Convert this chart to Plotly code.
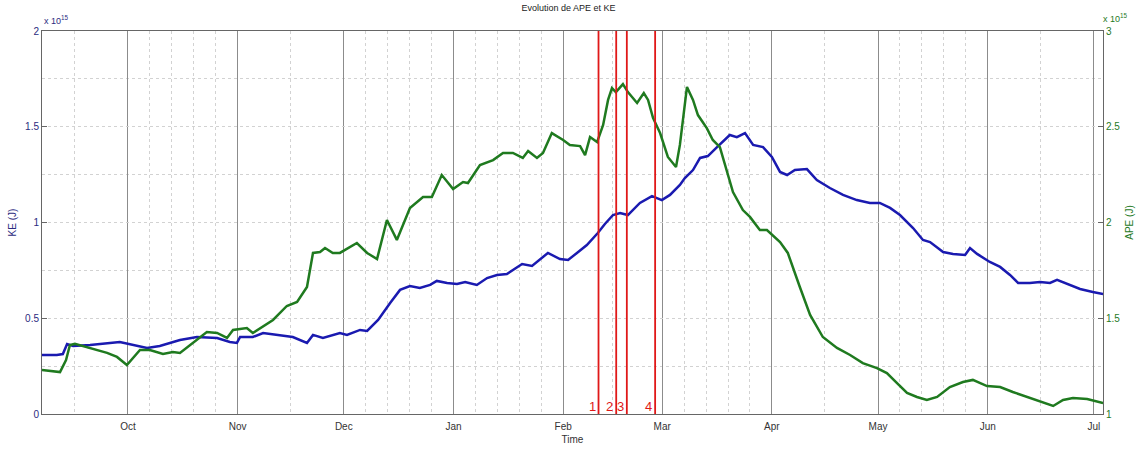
import pandas as pd
import plotly.graph_objects as go

# ---- data (time in days since 2010-10-01, energies in units of 1e15 J) ----
ref_date = "2010-10-01"

ke_days = [-24.3, -20.1, -18.4, -17.2, -15.5, -10.7, -2.3, 2.5, 5.4, 9.0, 14.7, 19.5, 25.2, 28.8, 30.8,
           31.7, 35.3, 38.2, 43.0, 46.6, 50.6, 52.3, 55.1, 59.9, 61.9, 65.6, 67.6, 70.7, 74.1, 76.9,
           79.7, 82.5, 85.4, 87.3, 90.2, 93.0, 95.3, 98.6, 101.5, 104.3, 107.1, 111.4, 114.2, 116.5,
           118.7, 122.1, 124.4, 126.9, 129.7, 132.8, 134.8, 137.1, 139.1, 141.3, 144.7, 148.1, 150.9,
           153.2, 156.0, 157.4, 159.7, 161.7, 163.9, 166.5, 170.1, 172.1, 174.4, 176.7, 179.5, 182.0,
           184.3, 186.3, 188.5, 191.9, 194.7, 198.4, 202.1, 206.0, 209.7, 212.5, 215.4, 218.2, 221.9,
           224.7, 226.7, 230.4, 233.2, 236.6, 238.0, 240.0, 243.6, 246.5, 249.3, 251.6, 254.9, 257.8,
           260.6, 262.6, 265.4, 269.1, 272.7, 275.6]
ke_vals = [0.308, 0.308, 0.313, 0.365, 0.355, 0.360, 0.376, 0.355, 0.345, 0.355, 0.386, 0.402, 0.397,
           0.376, 0.371, 0.402, 0.402, 0.423, 0.413, 0.402, 0.371, 0.413, 0.397, 0.423, 0.413, 0.439,
           0.434, 0.491, 0.580, 0.648, 0.668, 0.658, 0.674, 0.695, 0.684, 0.679, 0.689, 0.674, 0.710,
           0.726, 0.731, 0.783, 0.773, 0.809, 0.841, 0.809, 0.804, 0.841, 0.882, 0.945, 0.992, 1.039,
           1.050, 1.039, 1.102, 1.138, 1.117, 1.144, 1.196, 1.232, 1.274, 1.337, 1.347, 1.394, 1.457,
           1.446, 1.467, 1.405, 1.394, 1.342, 1.264, 1.248, 1.274, 1.279, 1.222, 1.180, 1.144, 1.117,
           1.102, 1.102, 1.076, 1.039, 0.971, 0.909, 0.898, 0.846, 0.836, 0.830, 0.867, 0.836, 0.794,
           0.768, 0.726, 0.684, 0.684, 0.689, 0.684, 0.700, 0.679, 0.653, 0.637, 0.627]

ape_days = [-24.3, -19.2, -17.5, -16.4, -15.0, -10.7, -5.9, -3.1, -0.3, 3.4, 6.2, 9.9, 12.7, 14.7, 18.4,
            22.3, 25.2, 28.0, 29.7, 33.6, 35.3, 41.0, 44.9, 47.8, 50.6, 52.3, 54.3, 55.7, 57.9, 59.9,
            64.7, 67.6, 70.4, 73.2, 76.0, 79.7, 83.4, 85.9, 88.7, 91.9, 94.7, 96.1, 99.5, 103.2, 106.0,
            108.8, 111.6, 113.1, 115.6, 117.3, 119.8, 123.0, 124.9, 127.8, 129.2, 130.6, 132.6, 134.3,
            135.7, 136.8, 137.9, 139.9, 141.3, 143.9, 145.8, 147.0, 148.4, 150.4, 152.6, 154.9, 156.0,
            158.0, 159.7, 161.1, 163.6, 165.3, 167.3, 169.3, 171.0, 173.8, 175.8, 178.6, 180.6, 184.3,
            186.5, 189.9, 192.8, 196.4, 200.4, 204.1, 207.7, 211.7, 214.5, 217.3, 220.2, 223.0, 225.8,
            228.7, 232.3, 236.0, 238.8, 242.8, 246.5, 250.1, 254.1, 257.8, 261.5, 264.3, 267.1, 271.1,
            275.6]
ape_vals = [1.230, 1.219, 1.282, 1.360, 1.366, 1.345, 1.319, 1.298, 1.256, 1.334, 1.334, 1.313, 1.324,
            1.319, 1.371, 1.428, 1.423, 1.397, 1.439, 1.449, 1.423, 1.491, 1.564, 1.585, 1.663, 1.841,
            1.846, 1.867, 1.841, 1.841, 1.893, 1.841, 1.809, 2.013, 1.909, 2.076, 2.133, 2.133, 2.248,
            2.175, 2.211, 2.206, 2.300, 2.326, 2.363, 2.363, 2.337, 2.373, 2.337, 2.363, 2.467, 2.431,
            2.405, 2.399, 2.352, 2.446, 2.420, 2.509, 2.640, 2.702, 2.681, 2.723, 2.681, 2.624, 2.676,
            2.640, 2.546, 2.467, 2.342, 2.290, 2.405, 2.708, 2.640, 2.561, 2.493, 2.431, 2.394, 2.274,
            2.159, 2.065, 2.029, 1.961, 1.961, 1.898, 1.841, 1.663, 1.517, 1.402, 1.345, 1.308, 1.266,
            1.240, 1.214, 1.162, 1.110, 1.089, 1.073, 1.089, 1.141, 1.167, 1.178, 1.146, 1.141, 1.115,
            1.089, 1.063, 1.042, 1.073, 1.084, 1.078, 1.057]

event_dates = ["2011-02-11", "2011-02-16", "2011-02-19", "2011-02-27"]
event_labels = ["1", "2", "3", "4"]

month_starts = ["2010-10-01", "2010-11-01", "2010-12-01", "2011-01-01", "2011-02-01",
                "2011-03-01", "2011-04-01", "2011-05-01", "2011-06-01", "2011-07-01"]
month_labels = ["Oct", "Nov", "Dec", "Jan", "Feb", "Mar", "Apr", "May", "Jun", "Jul"]

ke_ticks = [0, 0.5, 1, 1.5, 2]
ke_ticktext = ["0", "0.5", "1", "1.5", "2"]
ape_ticks = [1, 1.5, 2, 2.5, 3]
ape_ticktext = ["1", "1.5", "2", "2.5", "3"]

x_start = "2010-09-06 17:00"
x_end = "2011-07-03 14:00"

# ---- build ----
ref = pd.Timestamp(ref_date)
ke_x = [ref + pd.Timedelta(days=d) for d in ke_days]
ape_x = [ref + pd.Timedelta(days=d) for d in ape_days]

# minor vertical grid (calendar subdivisions)
minor_x = []
all_months = pd.date_range("2010-09-01", "2011-07-01", freq="MS")
for m in all_months:
    n = m.days_in_month
    if n == 31:
        for k in range(1, 5):
            minor_x.append(m + pd.Timedelta(days=6.2 * k))
    else:
        minor_x.append(m + pd.Timedelta(days=n / 2))

BLUE = "#1a1ab0"
GREEN = "#1f7a1f"
NAVY = "#2b2b80"
FONT = "Liberation Sans, Arial, sans-serif"

fig = go.Figure()
fig.add_trace(go.Scatter(x=ke_x, y=ke_vals, mode="lines", line=dict(color=BLUE, width=2.5),
                         name="KE", yaxis="y"))
fig.add_trace(go.Scatter(x=ape_x, y=ape_vals, mode="lines", line=dict(color=GREEN, width=2.5),
                         name="APE", yaxis="y2"))

for d, lab in zip(event_dates, event_labels):
    fig.add_shape(type="line", xref="x", yref="paper", x0=d, x1=d, y0=0, y1=1,
                  line=dict(color="#e01818", width=1.8), layer="above")
    fig.add_annotation(x=d, y=0, xref="x", yref="paper", text=lab, showarrow=False,
                       xanchor="right", yanchor="bottom", xshift=-1, yshift=-2,
                       font=dict(color="#e01818", size=13, family=FONT))

fig.update_layout(
    width=1137, height=449,
    margin=dict(l=42, r=34, t=31, b=35, autoexpand=False),
    paper_bgcolor="white", plot_bgcolor="white",
    showlegend=False,
    title=dict(text="Evolution de APE et KE", x=0.5, xanchor="center", y=0.99, yanchor="top",
               font=dict(size=9, family=FONT, color="#222"), automargin=False),
    xaxis=dict(
        range=[x_start, x_end], type="date", automargin=False,
        tickmode="array", tickvals=month_starts, ticktext=month_labels,
        tickfont=dict(size=10, family=FONT, color="#333"), ticklabelstandoff=3,
        showgrid=True, gridcolor="#8c8c8c", gridwidth=1,
        minor=dict(tickvals=minor_x, showgrid=True, gridcolor="#d2d2d2", griddash="dot", gridwidth=1),
        showline=True, linecolor="#666", linewidth=1, mirror=True,
        ticks="", zeroline=False,
        title=dict(text="Time", font=dict(size=10, family=FONT, color="#333"), standoff=4),
    ),
    yaxis=dict(
        range=[0, 2], tickmode="array", tickvals=ke_ticks, ticktext=ke_ticktext, automargin=False,
        tickfont=dict(size=10, family=FONT, color=NAVY),
        showgrid=True, gridcolor="#d2d2d2", griddash="dot", gridwidth=1,
        minor=dict(tickvals=[0.25, 0.75, 1.25, 1.75], showgrid=True, gridcolor="#d2d2d2",
                   griddash="dot", gridwidth=1),
        showline=True, linecolor="#666", linewidth=1, mirror=True,
        ticks="inside", ticklen=5, tickcolor="#666", zeroline=False,
        title=dict(text="KE (J)", font=dict(size=10, family=FONT, color=NAVY), standoff=6),
    ),
    yaxis2=dict(
        range=[1, 3], overlaying="y", side="right", anchor="x", automargin=False,
        tickmode="array", tickvals=ape_ticks, ticktext=ape_ticktext,
        tickfont=dict(size=10, family=FONT, color=GREEN),
        showgrid=False, showline=True, linecolor="#666", linewidth=1,
        ticks="inside", ticklen=5, tickcolor="#666", zeroline=False,
        title=dict(text="APE (J)", font=dict(size=10, family=FONT, color=GREEN), standoff=6),
    ),
)

fig.add_annotation(x=0, y=1, xref="paper", yref="paper", text="x 10<sup>15</sup>", showarrow=False,
                   xanchor="left", yanchor="bottom", yshift=3,
                   font=dict(size=9, family=FONT, color=NAVY))
fig.add_annotation(x=1, y=1, xref="paper", yref="paper", text="x 10<sup>15</sup>", showarrow=False,
                   xanchor="left", yanchor="bottom", yshift=5, xshift=-2,
                   font=dict(size=9, family=FONT, color=GREEN))

fig.write_html("out.html", config={"displayModeBar": False},
               post_script="document.body.style.margin='0';")
